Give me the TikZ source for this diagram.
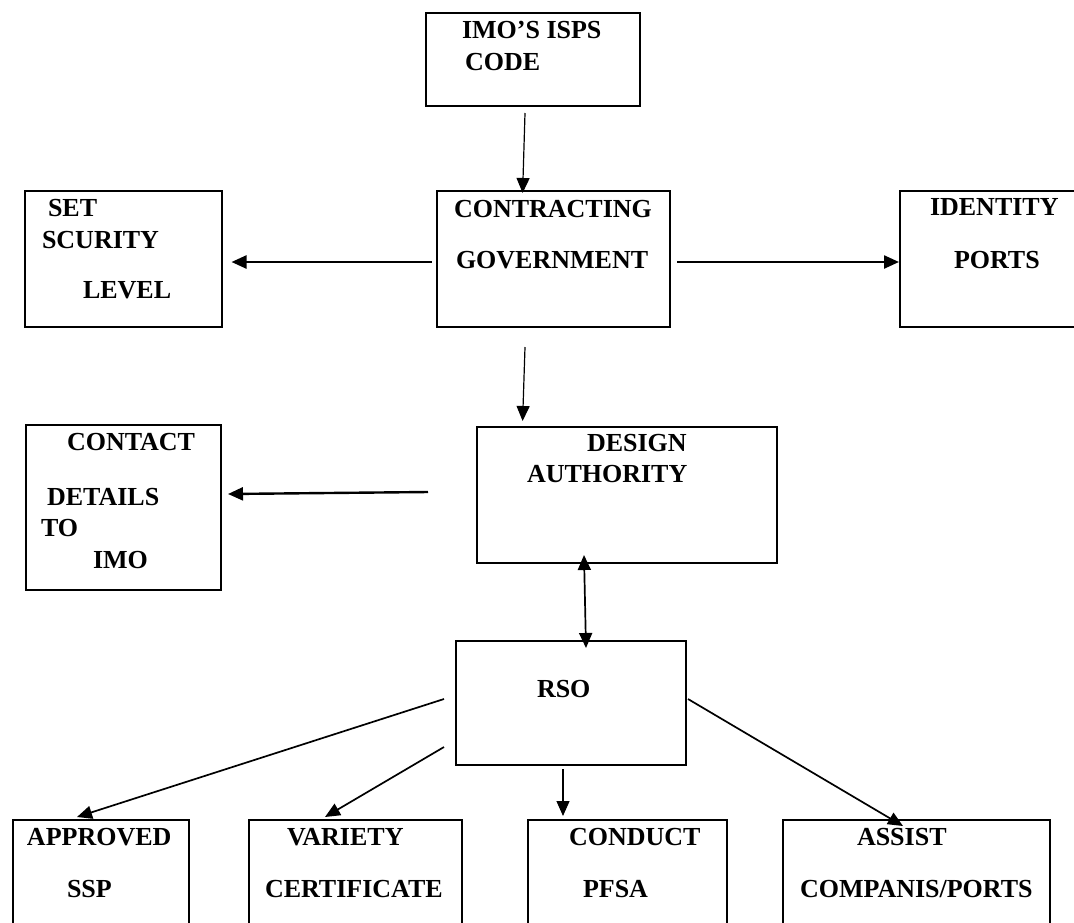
\documentclass[tikz,border=0pt]{standalone}
\usepackage{fontspec}
\setmainfont{Liberation Serif}
\usetikzlibrary{arrows.meta,calc}
\tikzset{
  box/.style={draw,line width=2.2pt,rectangle,inner sep=0pt,outer sep=0pt},
  lbl/.style={anchor=base west,inner sep=0pt,outer sep=0pt,font=\bfseries\fontsize{26}{30}\selectfont},
  arr/.style={-{Triangle[length=15pt,width=13pt]}},
  darr/.style={{Triangle[length=15pt,width=13pt]}-{Triangle[length=15pt,width=13pt]}},
  thin1/.style={line width=1.2pt},
  thick2/.style={line width=2.4pt},
  mid15/.style={line width=1.7pt}
}
\begin{document}
\begin{tikzpicture}[x=1pt,y=-1pt]
\clip (0,0) rectangle (1074,922);
\fill[white] (0,0) rectangle (1074,922);
% boxes
\node[box,minimum width=214pt,minimum height=93pt] (imo) at (533,59.5) {};
\node[box,minimum width=197pt,minimum height=136pt] (set) at (123.5,259) {};
\node[box,minimum width=233pt,minimum height=136pt] (cg) at (553.5,259) {};
\node[box,minimum width=200pt,minimum height=136pt] (ident) at (1000,259) {};
\node[box,minimum width=195pt,minimum height=165pt] (contact) at (123.5,507.5) {};
\node[box,minimum width=300pt,minimum height=136pt] (design) at (627,495) {};
\node[box,minimum width=230pt,minimum height=124pt] (rso) at (571,703) {};
\node[box,minimum width=176pt,minimum height=120pt] (approved) at (101,880) {};
\node[box,minimum width=213pt,minimum height=120pt] (variety) at (355.5,880) {};
\node[box,minimum width=199pt,minimum height=120pt] (conduct) at (627.5,880) {};
\node[box,minimum width=267pt,minimum height=120pt] (assist) at (916.5,880) {};
% texts
\node[lbl] (t1) at (462,38) {IMO’S ISPS};
\node[lbl] (t2) at (465,70) {CODE};
\node[lbl] (t3) at (48,216) {SET};
\node[lbl] (t4) at (42,248) {SCURITY};
\node[lbl] (t5) at (83,298) {LEVEL};
\node[lbl] (t6) at (454,217) {CONTRACTING};
\node[lbl] (t7) at (456,268) {GOVERNMENT};
\node[lbl] (t8) at (930,215) {IDENTITY};
\node[lbl] (t9) at (954,268) {PORTS};
\node[lbl] (t10) at (67,450) {CONTACT};
\node[lbl] (t11) at (47,505) {DETAILS};
\node[lbl] (t12) at (41,536) {TO};
\node[lbl] (t13) at (93,568) {IMO};
\node[lbl] (t14) at (587,451) {DESIGN};
\node[lbl] (t15) at (527,482) {AUTHORITY};
\node[lbl] (t16) at (537,697) {RSO};
\node[lbl] (t17) at (27,845) {APPROVED};
\node[lbl] (t18) at (67,897) {SSP};
\node[lbl] (t19) at (287,845) {VARIETY};
\node[lbl] (t20) at (265,897) {CERTIFICATE};
\node[lbl] (t21) at (569,845) {CONDUCT};
\node[lbl] (t22) at (583,897) {PFSA};
\node[lbl] (t23) at (857,845) {ASSIST};
\node[lbl] (t24) at (800,897) {COMPANIS/PORTS};
% connectors
\draw[arr,thin1] ($(imo.south west)+(99,7)$) -- ($(cg.north west)+(85.6,2)$);
\draw[arr,thick2] ($(cg.west)+(-5.5,3)$) -- ($(set.east)+(9.5,3)$);
\draw[arr,thick2] ($(cg.east)+(7,3)$) -- ($(ident.west)+(-1,3)$);
\draw[arr,thin1] ($(cg.south west)+(88,20)$) -- ($(design.north west)+(45.6,-6)$);
\draw[arr,thick2] ($(design.west)+(-49,-3)$) -- ($(contact.east)+(7,-13.5)$);
\draw[darr,mid15] ($(design.south west)+(107,-8)$) -- ($(rso.north west)+(130,7)$);
\draw[arr,mid15] ($(rso.west)+(-12,-4)$) -- ($(approved.north west)+(64,-3)$);
\draw[arr,mid15] ($(rso.west)+(-12,44)$) -- ($(variety.north west)+(76,-3)$);
\draw[arr,thin1] ($(rso.south west)+(107,4)$) -- ($(conduct.north west)+(35,-4)$);
\draw[arr,mid15] ($(rso.east)+(2,-4)$) -- ($(assist.north west)+(120,6)$);
\end{tikzpicture}
\end{document}
